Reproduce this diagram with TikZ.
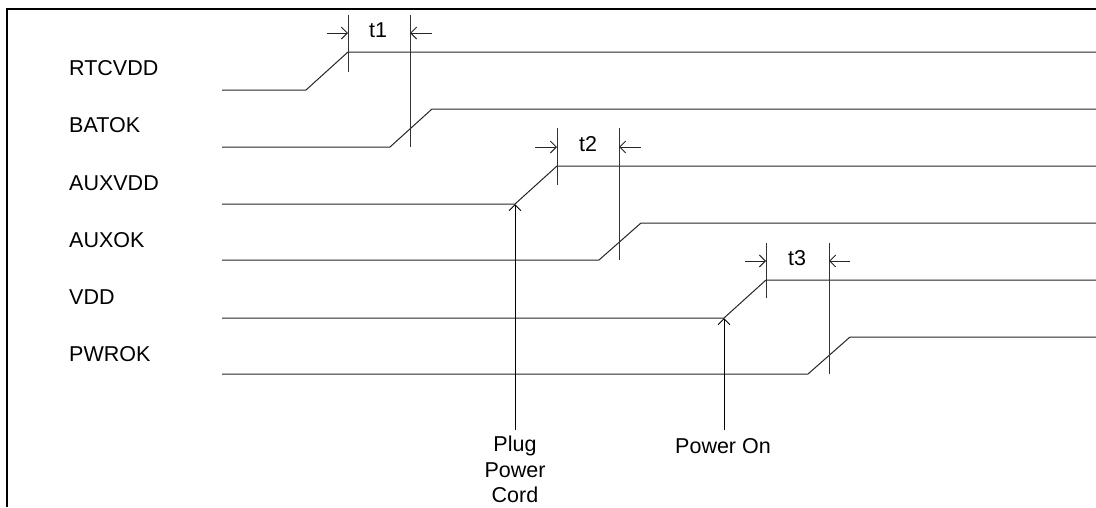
\documentclass[tikz,border=0pt]{standalone}
\usepackage{fontspec}
\setmainfont{Liberation Sans}
\usetikzlibrary{arrows.meta}
\begin{document}
\begin{tikzpicture}[x=1pt,y=-1pt,
  sig/.style={line width=1pt, draw=black!85},
  marker/.style={line width=1pt, draw=black!80},
  dimarrow/.style={line width=0.9pt, draw=black!85, -{Straight Barb[length=6pt,width=12pt]}},
  evtarrow/.style={line width=0.9pt, draw=black, -{Straight Barb[length=6pt,width=12pt]}},
  lbl/.style={anchor=base west, inner sep=0pt, font=\fontsize{21.5}{25}\selectfont},
  tlbl/.style={inner sep=0pt, font=\fontsize{21.5}{25}\selectfont},
  evt/.style={anchor=north, inner sep=0pt, align=center, font=\fontsize{21.5}{25.5}\selectfont}]
\useasboundingbox (0,0) rectangle (1096,507);
\fill[white] (0,0) rectangle (1096,507);
% frame
\draw[line width=2pt] (7,507) -- (7,9) -- (1096,9);

% signal names
\node[lbl] (nRTC) at (69,75) {RTCVDD};
\node[lbl] (nBAT) at (69,132) {BATOK};
\node[lbl] (nAUXV) at (69,190) {AUXVDD};
\node[lbl] (nAUXO) at (69,247) {AUXOK};
\node[lbl] (nVDD) at (69,304) {VDD};
\node[lbl] (nPWR) at (69,361) {PWROK};

% waveforms
\draw[sig] (222,90) -- (306,90) -- (348,52) -- (1096,52);
\draw[sig] (222,147) -- (390,147) -- (432,109) -- (1096,109);
\draw[sig] (222,204) -- (515,204) -- (557,166) -- (1096,166);
\draw[sig] (222,260) -- (599,260) -- (641,223) -- (1096,223);
\draw[sig] (222,318) -- (724,318) -- (766,280) -- (1096,280);
\draw[sig] (222,374) -- (808,374) -- (850,337) -- (1096,337);

% t1
\coordinate (t1a) at (348,15); \coordinate (t1b) at (410,15);
\draw[marker] (t1a) -- (348,72);
\draw[marker] (t1b) -- (410,147);
\coordinate (t1l) at (327,33); \coordinate (t1r) at (432,33);
\draw[dimarrow] (t1l) -- (348,33);
\draw[dimarrow] (t1r) -- (410,33);
\node[tlbl] (t1) at (378,30) {t1};

% t2
\coordinate (t2a) at (557,128); \coordinate (t2b) at (619,128);
\draw[marker] (t2a) -- (557,185);
\draw[marker] (t2b) -- (619,260);
\coordinate (t2l) at (535,147); \coordinate (t2r) at (641,147);
\draw[dimarrow] (t2l) -- (557,147);
\draw[dimarrow] (t2r) -- (619,147);
\node[tlbl] (t2) at (588,144) {t2};

% t3
\coordinate (t3a) at (766,243); \coordinate (t3b) at (829,243);
\draw[marker] (t3a) -- (766,298);
\draw[marker] (t3b) -- (829,374);
\coordinate (t3l) at (745,261); \coordinate (t3r) at (850,261);
\draw[dimarrow] (t3l) -- (766,261);
\draw[dimarrow] (t3r) -- (829,261);
\node[tlbl] (t3) at (797,258) {t3};

% events
\node[evt] (plug) at (515,436) {Plug\\Power\\Cord};
\node[evt] (pon) at (723,438) {Power On};
\coordinate (plugTip) at (515,204);
\coordinate (ponTip) at (724,318);
\draw[evtarrow] (515,430) -- (plugTip);
\draw[evtarrow] (724,430) -- (ponTip);
\end{tikzpicture}
\end{document}
